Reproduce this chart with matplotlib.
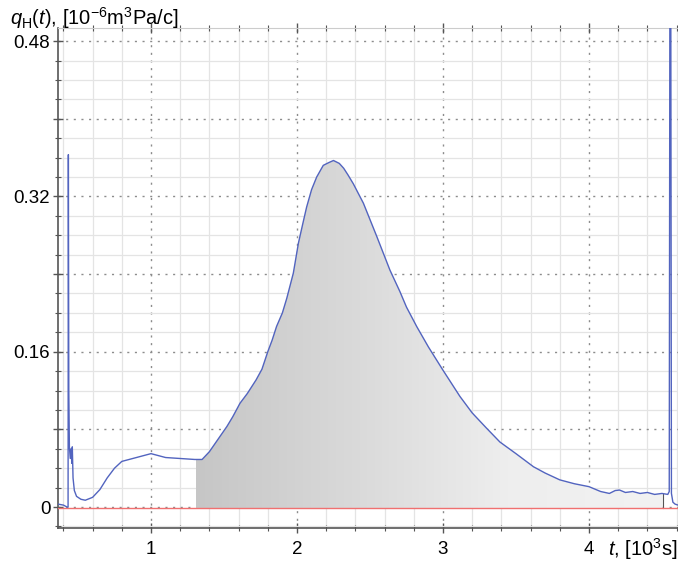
import numpy as np
import matplotlib
matplotlib.use("Agg")
import matplotlib.pyplot as plt
from matplotlib.colors import LinearSegmentedColormap
from matplotlib.patches import Polygon
from matplotlib.ticker import MultipleLocator, FuncFormatter

plt.rcParams.update({
    "font.family": ["Liberation Sans", "DejaVu Sans"],
    "mathtext.fontset": "custom",
    "mathtext.rm": "Liberation Sans",
    "mathtext.it": "Liberation Sans:italic",
})

# measured curve, t in 10^3 s, q in 10^-6 m^3 Pa/c
t = [0.363, 0.40, 0.425, 0.432, 0.434, 0.437, 0.441, 0.447, 0.453, 0.458, 0.461,
     0.466, 0.475, 0.49, 0.52, 0.55, 0.60, 0.65, 0.70, 0.75, 0.80, 0.90, 1.00,
     1.05, 1.10, 1.20, 1.30, 1.35, 1.40, 1.46, 1.52, 1.56, 1.61, 1.66, 1.72,
     1.76, 1.80, 1.83, 1.86, 1.90, 1.93, 1.975, 2.01, 2.04, 2.066, 2.10, 2.135,
     2.18, 2.22, 2.25, 2.29, 2.32, 2.35, 2.386, 2.455, 2.546, 2.637, 2.705, 2.75,
     2.82, 2.90, 3.00, 3.116, 3.20, 3.30, 3.39, 3.50, 3.62, 3.70, 3.80, 3.90,
     4.00, 4.08, 4.14, 4.18, 4.21, 4.25, 4.30, 4.35, 4.40, 4.45, 4.50, 4.54,
     4.550, 4.555, 4.560, 4.565, 4.575, 4.59, 4.61]
q = [0.003, 0.002, 0.0, 0.0, 0.363, 0.12, 0.062, 0.050, 0.060, 0.045, 0.062,
     0.030, 0.017, 0.011, 0.008, 0.007, 0.010, 0.018, 0.030, 0.040, 0.047, 0.051, 0.055,
     0.053, 0.051, 0.050, 0.049, 0.049, 0.057, 0.070, 0.083, 0.093, 0.107, 0.117, 0.131,
     0.142, 0.160, 0.172, 0.186, 0.200, 0.215, 0.241, 0.272, 0.292, 0.309, 0.327, 0.340,
     0.352, 0.355, 0.357, 0.354, 0.349, 0.342, 0.333, 0.313, 0.279, 0.244, 0.222, 0.206,
     0.186, 0.165, 0.141, 0.114, 0.097, 0.081, 0.067, 0.055, 0.0415, 0.035, 0.028, 0.024,
     0.021, 0.016, 0.014, 0.017, 0.0175, 0.015, 0.016, 0.014, 0.015, 0.013, 0.014, 0.013,
     0.016, 0.60, 0.60, 0.014, 0.005, 0.003, 0.002]

fill_start = 1.306
fill_end = 4.505
red_level = -0.0015

y_labels = [0, 0.16, 0.32, 0.48]
x_labels = [1, 2, 3, 4]

fig = plt.figure(figsize=(6.78, 5.65), dpi=100)
ax = fig.add_axes([58 / 678, 37 / 565, 620 / 678, 500 / 565])
ax.set_xlim(0.363, 4.610)
ax.set_ylim(-0.0216, 0.4935)

# grids
ax.xaxis.set_major_locator(MultipleLocator(1))
ax.xaxis.set_minor_locator(MultipleLocator(0.2))
ax.yaxis.set_major_locator(MultipleLocator(0.08))
ax.yaxis.set_minor_locator(MultipleLocator(0.02))
ax.grid(which="minor", color="#e4e4e4", lw=0.9, ls="-")
ax.grid(which="major", color="#8c8c8c", lw=1.0, ls=(0, (1.5, 4)))
ax.set_axisbelow(True)


def yfmt(v, pos):
    for lab in y_labels:
        if abs(v - lab) < 1e-6:
            return "0" if lab == 0 else f"{lab:.2f}"
    return ""


ax.yaxis.set_major_formatter(FuncFormatter(yfmt))
ax.xaxis.set_major_formatter(FuncFormatter(
    lambda v, p: f"{int(round(v))}" if int(round(v)) in x_labels else ""))

ax.tick_params(which="both", direction="inout", colors="#555555",
               labelcolor="black", labelsize=13.5)
ax.tick_params(which="major", length=7, width=1.0)
ax.tick_params(which="minor", length=5, width=0.8)
ax.tick_params(axis="x", which="both", top=True, pad=6)
ax.tick_params(axis="y", pad=2)

for side in ["left", "bottom"]:
    ax.spines[side].set_color("#555555")
    ax.spines[side].set_linewidth(1.2)
ax.spines["right"].set_visible(False)
ax.spines["top"].set_color("#cccccc")

# gradient fill under the curve
t_arr = np.array(t)
q_arr = np.array(q)
inside = (t_arr > fill_start) & (t_arr < fill_end)
px = np.concatenate([[fill_start], t_arr[inside], [fill_end]])
py = np.concatenate([[np.interp(fill_start, t_arr, q_arr)], q_arr[inside],
                     [np.interp(fill_end, t_arr, q_arr)]])
verts = list(zip(px, py)) + [(fill_end, red_level), (fill_start, red_level)]
poly = Polygon(verts, closed=True, facecolor="none", edgecolor="none")
ax.add_patch(poly)
cmap = LinearSegmentedColormap.from_list("g", ["#c6c6c6", "#d9d9d9", "#eeeeee", "#f2f2f2"])
grad = np.linspace(0, 1, 256).reshape(1, -1)
img = ax.imshow(grad, cmap=cmap, aspect="auto", zorder=1,
                extent=[fill_start, fill_end, red_level, 0.37], origin="lower")
img.set_clip_path(poly)

ax.plot([fill_end, fill_end], [red_level, 0.013], color="#555555", lw=0.8, zorder=2)
ax.axhline(red_level, color="#f07070", lw=1.0, zorder=3)
ax.plot(t, q, color="#5264bf", lw=1.0, zorder=4)

fig.text(10, 565 - 18, r"$q_{\rm H}(t)$, [10$^{-6}$m$^3$Pa/c]", fontsize=14.5,
         transform=None, va="center", ha="left")
fig.text(643, 565 - 549, r"$t$, [10$^3$s]", fontsize=14.5, transform=None,
         va="center", ha="center")

fig.savefig("out.png", dpi=100)
